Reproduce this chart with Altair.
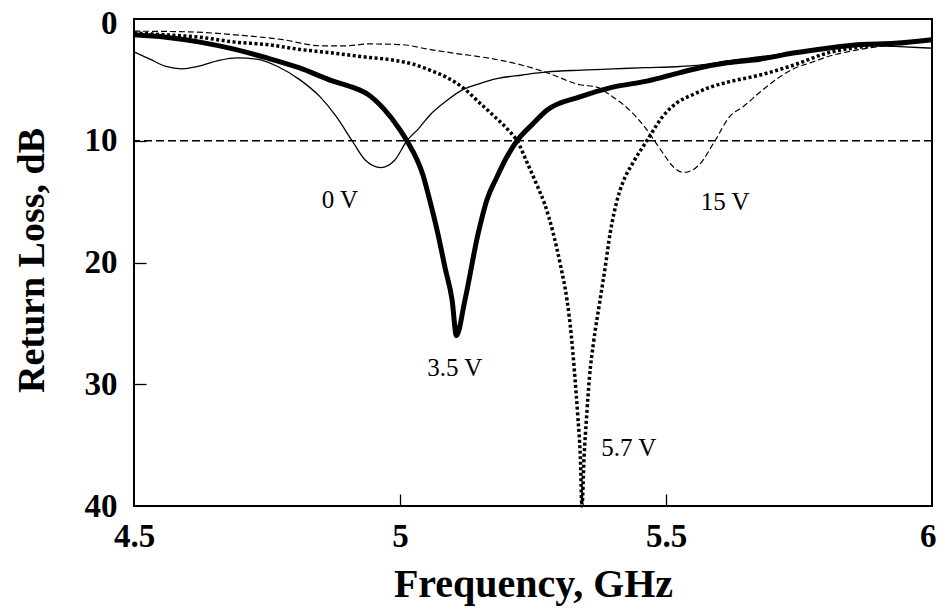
import altair as alt
import pandas as pd

# ---- data ----
f_0v = [4.50, 4.53, 4.56, 4.59, 4.62, 4.66, 4.694, 4.73, 4.77, 4.812, 4.85, 4.88, 4.91, 4.935, 4.964,
        4.99, 5.013, 5.035, 5.056, 5.085, 5.118, 5.15, 5.182, 5.23, 5.276, 5.34, 5.40, 5.46, 5.526,
        5.58, 5.615, 5.677, 5.739, 5.803, 5.865, 5.93, 6.0]
v_0v = [2.7, 3.3, 3.9, 4.1, 3.9, 3.4, 3.2, 3.3, 3.9, 5.0, 6.4, 8.0, 10.0, 11.6, 12.2,
        11.6, 10.0, 9.0, 7.9, 6.8, 5.8, 5.3, 4.9, 4.6, 4.35, 4.2, 4.1, 4.0, 3.9,
        3.7, 3.45, 3.1, 2.75, 2.35, 2.15, 2.25, 2.4]

f_35v = [4.50, 4.56, 4.624, 4.69, 4.75, 4.81, 4.874, 4.91, 4.94, 4.97, 5.00, 5.013,
         5.043, 5.056, 5.071, 5.085, 5.098, 5.106, 5.122, 5.147, 5.163, 5.182, 5.20, 5.22, 5.25,
         5.276, 5.338, 5.40, 5.464, 5.526, 5.564, 5.615, 5.677, 5.739, 5.803, 5.865, 5.93, 6.0]
v_35v = [1.3, 1.5, 1.9, 2.5, 3.2, 4.0, 5.1, 5.6, 6.2, 7.4, 9.1, 10.0,
         12.8, 14.9, 17.6, 20.5, 23.1, 26.0, 23.1, 17.6, 14.9, 13.0, 11.4, 10.0, 8.6,
         7.5, 6.4, 5.6, 5.1, 4.4, 4.0, 3.6, 3.3, 2.8, 2.4, 2.1, 2.0, 1.7]

f_57v = [4.50, 4.56, 4.624, 4.69, 4.75, 4.812, 4.874, 4.93, 4.99, 5.024, 5.056, 5.088, 5.12, 5.150,
         5.175, 5.201, 5.220, 5.24, 5.258, 5.272, 5.288, 5.302, 5.314, 5.322, 5.328, 5.334, 5.339,
         5.342, 5.346, 5.351, 5.356, 5.364, 5.376, 5.386, 5.395, 5.408, 5.42, 5.438, 5.464, 5.494,
         5.52, 5.551, 5.583, 5.615, 5.677, 5.739, 5.803, 5.865, 5.93, 6.0]
v_57v = [1.15, 1.3, 1.5, 1.9, 2.1, 2.5, 2.8, 3.1, 3.4, 3.7, 4.2, 4.8, 5.7, 6.9,
         7.9, 9.0, 10.0, 11.9, 13.7, 15.2, 17.6, 20.3, 23.1, 26.0, 29.0, 32.5, 36.0,
         40.0, 36.0, 32.5, 29.5, 26.5, 23.1, 20.3, 17.6, 14.9, 13.3, 11.8, 10.0, 8.0,
         6.9, 6.2, 5.6, 5.2, 4.6, 3.8, 2.8, 2.3, 2.0, 1.7]

f_15v = [4.50, 4.60, 4.69, 4.78, 4.85, 4.90, 4.94, 5.00, 5.056, 5.10, 5.150, 5.212, 5.276, 5.338,
         5.370, 5.400, 5.432, 5.464, 5.494, 5.515, 5.532, 5.55, 5.564, 5.592, 5.620, 5.645, 5.677,
         5.709, 5.739, 5.771, 5.803, 5.865, 5.93, 6.0]
v_15v = [1.0, 1.05, 1.3, 1.7, 2.2, 2.2, 2.05, 2.1, 2.5, 2.8, 3.1, 3.6, 4.4, 5.4,
         5.6, 6.4, 7.5, 9.1, 11.0, 12.2, 12.6, 12.4, 11.9, 10.0, 8.0, 7.2, 6.0,
         4.9, 4.1, 3.6, 3.1, 2.5, 2.1, 1.7]

label_text = ["0 V", "3.5 V", "5.7 V", "15 V"]
label_f = [4.887, 5.103, 5.430, 5.611]
label_v = [14.9, 28.7, 35.2, 15.0]

threshold = [10]
x_tick_values = [4.5, 5, 5.5, 6]
y_tick_values = [0, 10, 20, 30, 40]
x_inner_ticks = [5, 5.5]
y_inner_ticks = [10, 20, 30]

FONT = "Liberation Serif"

xscale = alt.Scale(domain=[4.5, 6], nice=False, zero=False)
yscale = alt.Scale(domain=[0, 40], reverse=True, nice=False)

xaxis = alt.Axis(values=x_tick_values, format="~g", ticks=False, domain=False, grid=False,
                 labelFont=FONT, labelFontSize=33, labelFontWeight="bold", labelColor="black",
                 labelPadding=14, labelFlush=False,
                 labelAlign={"condition": {"test": "datum.value == 6", "value": "right"},
                             "value": "center"},
                 labelOffset={"condition": {"test": "datum.value == 6", "value": 4},
                              "value": 0},
                 title="Frequency, GHz", titleFont=FONT, titleFontSize=40, titleFontWeight="bold",
                 titleColor="black", titleX=399, titleY=90, titleBaseline="alphabetic",
                 titleAlign="center")
yaxis = alt.Axis(values=y_tick_values, format="d", ticks=False, domain=False, grid=False,
                 labelFont=FONT, labelFontSize=33, labelFontWeight="bold", labelColor="black",
                 labelPadding=17, labelFlush=False,
                 labelOffset={"condition": {"test": "datum.value == 0", "value": 4},
                              "value": 0},
                 title="Return Loss, dB", titleFont=FONT, titleFontSize=38, titleFontWeight="bold",
                 titleColor="black", titleX=-91, titleY=241, titleBaseline="alphabetic",
                 titleAlign="center", titleAngle=270)


def series_df(f, v):
    return pd.DataFrame({"f": f, "v": v})


def line(df, **kw):
    return alt.Chart(df).mark_line(color="black", interpolate="monotone", **kw).encode(
        x=alt.X("f:Q", scale=xscale, axis=xaxis),
        y=alt.Y("v:Q", scale=yscale, axis=yaxis),
    )


l0 = line(series_df(f_0v, v_0v), strokeWidth=1.3)
l35 = line(series_df(f_35v, v_35v), strokeWidth=5, strokeJoin="miter")
l57 = line(series_df(f_57v, v_57v), strokeWidth=3.5, strokeDash=[3, 2.5])
l15 = line(series_df(f_15v, v_15v), strokeWidth=1.2, strokeDash=[6, 3])

rule = alt.Chart(pd.DataFrame({"v": threshold})).mark_rule(
    color="black", strokeWidth=1.3, strokeDash=[8, 4]).encode(
    y=alt.Y("v:Q", scale=yscale, axis=yaxis))

labels = alt.Chart(pd.DataFrame({"t": label_text, "f": label_f, "v": label_v})).mark_text(
    font=FONT, fontSize=25, color="black", align="center", baseline="middle").encode(
    x=alt.X("f:Q", scale=xscale, axis=xaxis),
    y=alt.Y("v:Q", scale=yscale, axis=yaxis),
    text="t:N")

main = alt.layer(l0, l35, l57, l15, rule, labels)

# inward tick marks: a second, offset axis pair with no labels
tick_axis_x = alt.Axis(orient="bottom", offset=-12, values=x_inner_ticks, tickSize=12,
                       tickWidth=1.3, tickColor="black", labels=False, domain=False,
                       grid=False, title="")
tick_axis_y = alt.Axis(orient="left", offset=-12, values=y_inner_ticks, tickSize=12,
                       tickWidth=1.3, tickColor="black", labels=False, domain=False,
                       grid=False, title="")
ticks = alt.Chart(pd.DataFrame({"f": [4.5, 6], "v": [0, 40]})).mark_point(opacity=0).encode(
    x=alt.X("f:Q", scale=xscale, axis=tick_axis_x),
    y=alt.Y("v:Q", scale=yscale, axis=tick_axis_y))

chart = alt.layer(main, ticks).resolve_axis(x="independent", y="independent").properties(
    width=798, height=487,
    autosize=alt.AutoSizeParams(type="none"),
    padding={"left": 126, "top": 11, "right": 5, "bottom": 100},
    background="white",
).configure_view(stroke="black", strokeWidth=2)

chart.save("out.html", embed_options={"renderer": "svg", "actions": False})
